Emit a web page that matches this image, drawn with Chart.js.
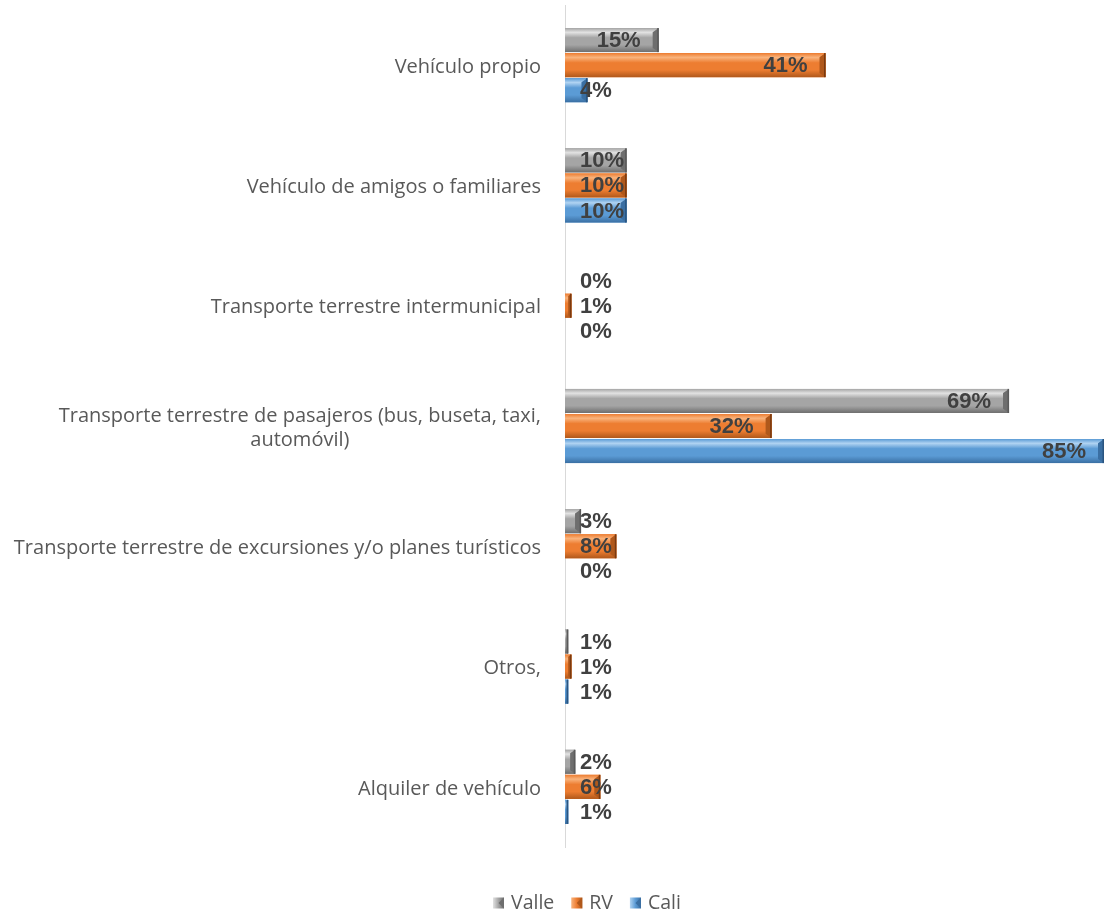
<!DOCTYPE html>
<html><head><meta charset="utf-8">
<script src="https://cdn.jsdelivr.net/npm/chart.js@4/dist/chart.umd.min.js"></script>
<style>html,body{margin:0;padding:0;background:#fff}#wrap{width:1104px;height:914px;position:relative}</style>
</head><body><div id="wrap"><canvas id="c" width="1104" height="914"></canvas></div>
<script>
const categories = [
  ["Vehículo propio"],
  ["Vehículo de amigos o familiares"],
  ["Transporte terrestre intermunicipal"],
  ["Transporte terrestre de pasajeros (bus, buseta, taxi,", "automóvil)"],
  ["Transporte terrestre de excursiones y/o planes turísticos"],
  ["Otros,"],
  ["Alquiler de vehículo"]
];
const seriesNames = ["Valle", "RV", "Cali"];
const valle = [14.6, 9.6, 0, 69.2, 2.5, 0.5, 1.6];
const rv = [40.6, 9.6, 1.0, 32.2, 8.0, 1.0, 5.5];
const cali = [3.5, 9.6, 0, 85, 0, 0.5, 0.5];
const axisMax = 84;

const palette = [
  {base:'#a5a5a5', light:'#e2e2e2', dark:'#6e6e6e', cap:'#5a5a5a'},
  {base:'#ed7d31', light:'#f9b37c', dark:'#b0581b', cap:'#7a3a10'},
  {base:'#5b9bd5', light:'#b0d3f2', dark:'#3a6fa3', cap:'#2a5580'}
];

const bevelPlugin = {
  id: 'bevel',
  afterDatasetsDraw(chart) {
    const ctx = chart.ctx, ca = chart.chartArea;
    ctx.save();
    ctx.beginPath(); ctx.rect(ca.left, ca.top, ca.right - ca.left, ca.bottom - ca.top); ctx.clip();
    chart.data.datasets.forEach((ds, di) => {
      const meta = chart.getDatasetMeta(di);
      const p = palette[di];
      meta.data.forEach((el) => {
        const {x, y, base, height} = el.getProps(['x','y','base','height'], true);
        const left = Math.min(x, base), right = Math.min(Math.max(x, base), ca.right);
        const w = right - left; if (w <= 0.5) return;
        const top = y - height/2, bot = y + height/2;
        const g = ctx.createLinearGradient(0, top, 0, bot);
        g.addColorStop(0, p.base);
        g.addColorStop(0.18, p.light);
        g.addColorStop(0.4, p.base);
        g.addColorStop(0.7, p.base);
        g.addColorStop(1, p.dark);
        ctx.fillStyle = g;
        ctx.fillRect(left, top, w, height);
        const bw = Math.min(6, w/2);
        ctx.fillStyle = p.dark;
        ctx.beginPath();
        ctx.moveTo(right - bw, top + bw*0.7);
        ctx.lineTo(right, top);
        ctx.lineTo(right, bot);
        ctx.lineTo(right - bw, bot - bw*0.7);
        ctx.closePath(); ctx.fill();
        ctx.fillStyle = p.cap;
        ctx.fillRect(right - 1.5, top, 1.5, height);
      });
    });
    ctx.restore();
  }
};

const labelPlugin = {
  id: 'vlabels',
  afterDatasetsDraw(chart) {
    const ctx = chart.ctx, ca = chart.chartArea;
    const zero = chart.scales.x.getPixelForValue(0);
    ctx.save();
    ctx.font = 'bold 22px "Liberation Sans", Arial, sans-serif';
    ctx.fillStyle = '#404040';
    ctx.textBaseline = 'middle';
    ctx.textAlign = 'left';
    chart.data.datasets.forEach((ds, di) => {
      const meta = chart.getDatasetMeta(di);
      meta.data.forEach((el, i) => {
        const txt = Math.round(ds.data[i]) + '%';
        const w = ctx.measureText(txt).width;
        const end = Math.min(Math.max(el.x, el.base), ca.right);
        const lx = Math.max(zero + 15, end - 18 - w);
        ctx.fillText(txt, lx, el.y + 1);
      });
    });
    ctx.restore();
  }
};

const catLabelPlugin = {
  id: 'catlabels',
  afterDraw(chart) {
    const ctx = chart.ctx;
    const ys = chart.scales.y;
    ctx.save();
    ctx.font = '20px "Open Sans", Lato, sans-serif';
    ctx.fillStyle = '#595959';
    ctx.textBaseline = 'middle';
    ctx.textAlign = 'center';
    const rightEdge = 541, lh = 24;
    categories.forEach((lines, i) => {
      const yc = ys.getPixelForValue(i) + 2;
      const widest = Math.max(...lines.map(l => ctx.measureText(l).width));
      const cx = rightEdge - widest/2;
      lines.forEach((l, k) => {
        ctx.fillText(l, cx, yc + (k - (lines.length - 1)/2) * lh);
      });
    });
    // legend
    ctx.font = '19.5px "Open Sans", Lato, sans-serif';
    ctx.textAlign = 'left';
    let lx = 493; const ly = 903;
    seriesNames.forEach((n, di) => {
      const p = palette[di];
      const g = ctx.createLinearGradient(lx, 0, lx + 11, 0);
      g.addColorStop(0, p.light); g.addColorStop(0.5, p.base); g.addColorStop(1, p.dark);
      ctx.fillStyle = g;
      ctx.fillRect(lx, ly - 5.5, 11, 11);
      ctx.fillStyle = p.dark;
      ctx.beginPath(); ctx.moveTo(lx + 11, ly - 5.5); ctx.lineTo(lx + 11, ly + 5.5); ctx.lineTo(lx + 5.5, ly); ctx.closePath(); ctx.fill();
      ctx.fillStyle = '#595959';
      ctx.fillText(n, lx + 18, ly);
      lx += 18 + ctx.measureText(n).width + 17;
    });
    ctx.restore();
  }
};

new Chart(document.getElementById('c'), {
  type: 'bar',
  data: {
    labels: categories,
    datasets: [
      {label: seriesNames[0], data: valle, backgroundColor: palette[0].base},
      {label: seriesNames[1], data: rv, backgroundColor: palette[1].base},
      {label: seriesNames[2], data: cali, backgroundColor: palette[2].base}
    ]
  },
  options: {
    indexAxis: 'y',
    responsive: false,
    animation: false,
    devicePixelRatio: 1,
    categoryPercentage: 0.625,
    barPercentage: 0.96,
    layout: {padding: {left: 565, right: 0, top: 5, bottom: 67}},
    plugins: {legend: {display: false}, tooltip: {enabled: false}},
    scales: {
      x: {display: false, min: 0, max: axisMax},
      y: {
        grid: {display: false, drawTicks: false},
        border: {display: true, color: '#d9d9d9', width: 1},
        ticks: {display: false}
      }
    }
  },
  plugins: [bevelPlugin, labelPlugin, catLabelPlugin]
});
</script></body></html>
